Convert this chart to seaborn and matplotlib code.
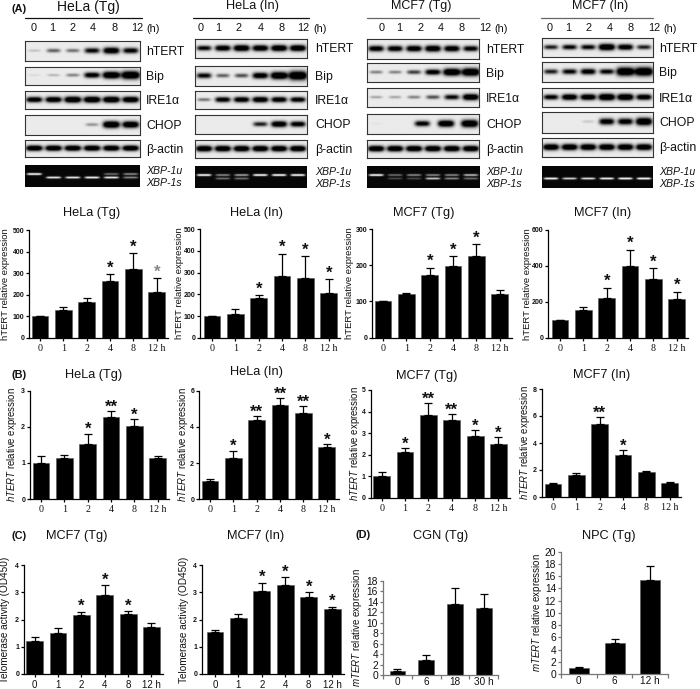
import numpy as np
import matplotlib
matplotlib.use("Agg")
import matplotlib.pyplot as plt
import pandas as pd
import seaborn as sns

sns.set_theme(style="white")
plt.rcParams["font.family"] = ["Liberation Sans", "DejaVu Sans"]
plt.rcParams["mathtext.fontset"] = "custom"
plt.rcParams["mathtext.it"] = "Liberation Sans:italic"
plt.rcParams["mathtext.rm"] = "Liberation Sans"

W, H = 700, 689

# ---------- data: bar panels ----------
hours = ["0", "1", "2", "4", "8", "12 h"]

a1_vals = [100, 130, 167, 265, 320, 213]
a1_tops = [100, 145, 185, 295, 392, 277]
a2_vals = [100, 112, 185, 283, 275, 205]
a2_tops = [100, 132, 195, 387, 375, 270]
a3_vals = [100, 119, 173, 198, 224, 121]
a3_tops = [100, 124, 193, 224, 258, 130]
a4_vals = [100, 155, 220, 397, 325, 216]
a4_tops = [100, 170, 278, 488, 385, 257]

b1_vals = [1.0, 1.14, 1.53, 2.28, 2.03, 1.13]
b1_tops = [1.18, 1.23, 1.81, 2.43, 2.2, 1.19]
b2_vals = [1.0, 2.27, 4.38, 5.18, 4.74, 2.87]
b2_tops = [1.1, 2.68, 4.6, 5.58, 5.13, 3.03]
b3_vals = [1.0, 2.15, 3.85, 3.63, 2.87, 2.52]
b3_tops = [1.22, 2.3, 4.38, 3.87, 3.15, 2.82]
b4_vals = [1.0, 1.6, 5.42, 3.12, 1.87, 1.05]
b4_tops = [1.05, 1.76, 5.9, 3.47, 1.92, 1.1]

c1_vals = [1.22, 1.5, 2.15, 2.9, 2.2, 1.73]
c1_tops = [1.34, 1.67, 2.29, 3.25, 2.3, 1.88]
c2_vals = [1.53, 2.05, 3.05, 3.27, 2.82, 2.38]
c2_tops = [1.6, 2.19, 3.35, 3.55, 3.0, 2.47]

d1_hours = ["0", "6", "18", "30 h"]
d1_vals = [0.9, 2.9, 13.5, 12.9]
d1_tops = [1.15, 3.8, 16.7, 15.4]
d2_hours = ["0", "6", "12 h"]
d2_vals = [1.0, 5.0, 15.4]
d2_tops = [1.1, 5.8, 17.7]

a1_stars = ["", "", "", "*", "*", "*"]
a2_stars = ["", "", "*", "*", "*", "*"]
a3_stars = ["", "", "*", "*", "*", ""]
a4_stars = ["", "", "*", "*", "*", "*"]
b1_stars = ["", "", "*", "**", "*", ""]
b2_stars = ["", "*", "**", "**", "**", "*"]
b3_stars = ["", "*", "**", "**", "*", "*"]
b4_stars = ["", "", "**", "*", "", ""]
c1_stars = ["", "", "*", "*", "*", ""]
c2_stars = ["", "", "*", "*", "*", "*"]

# ---------- data: blots (band strengths per lane) ----------
blot_rows = ["hTERT", "Bip", "IRE1α", "CHOP", "β-actin"]
actin = [0.95] * 6
hela_tg = [[0.12, 0.4, 0.35, 0.7, 0.9, 0.75], [0.05, 0.15, 0.3, 0.8, 1.1, 1.35],
           [0.85, 0.9, 1.0, 1.0, 1.0, 0.95], [0, 0, 0, 0.25, 1.0, 0.95], actin]
hela_in = [[0.7, 0.85, 0.95, 0.9, 0.95, 0.95], [0.7, 0.4, 0.45, 0.85, 1.1, 1.45],
           [0.35, 0.8, 0.85, 0.9, 0.85, 0.8], [0, 0, 0, 0.6, 0.9, 0.8], actin]
mcf_tg = [[0.8, 0.8, 0.85, 0.9, 0.85, 0.75], [0.3, 0.3, 0.5, 0.8, 1.15, 1.3],
          [0.2, 0.2, 0.3, 0.45, 0.7, 0.95], [0.02, 0, 0.75, 0.95, 1.1, 0], actin]
mcf_in = [[0.6, 0.7, 0.7, 1.0, 0.85, 0.6], [0.6, 0.7, 0.8, 0.7, 1.35, 1.4],
          [0.75, 0.9, 0.9, 1.05, 1.0, 0.85], [0, 0, 0.1, 0.8, 0.8, 1.0], actin]
blot_sets = [hela_tg, hela_in, mcf_tg, mcf_in]

xbp_u_sets = [[1, 0, 0, 0, 0.4, 0.5], [1, 0.5, 0.6, 1, 1, 1],
              [1, 0.4, 0.5, 0.5, 0.5, 0.7], [0, 0, 0, 0, 0, 0]]
xbp_s_sets = [[0, 0.9, 0.9, 0.95, 0.9, 0.5], [0, 0.4, 0.4, 0, 0, 0],
              [0, 0.25, 0.25, 0.75, 0.5, 0.4], [1, 0.8, 0.85, 0.95, 1, 1]]

blot_titles = ["HeLa (Tg)", "HeLa (In)", "MCF7 (Tg)", "MCF7 (In)"]
lane_labels = ["0", "1", "2", "4", "8", "12"]

fig = plt.figure(figsize=(W / 100, H / 100), dpi=100, facecolor="white")


def text(x, y, s, **kw):
    kw.setdefault("ha", "center")
    kw.setdefault("va", "center")
    kw.setdefault("color", "#111111")
    return fig.text(x / W, 1 - y / H, s, **kw)


def px_axes(l, t, r, b):
    return fig.add_axes([l / W, 1 - b / H, (r - l) / W, (b - t) / H])


# ---------- blots ----------
blot_x = [(25, 140), (195, 307), (367, 479), (542, 653)]
blot_y = [
    [(41, 61), (67, 85), (91, 109), (115, 135), (140, 157), (165, 187)],
    [(39, 58), (66, 86), (91, 109), (115, 134), (140, 158), (166, 188)],
    [(39, 59), (63, 82), (88, 107), (114, 134), (140, 158), (166, 188)],
    [(38, 57), (62, 82), (88, 107), (112, 133), (138, 157), (166, 188)],
]
head_x = [(25, 142), (193, 309), (367, 479), (541, 653)]
head_col = ["#111111", "#111111", "#666666", "#666666"]
title_pos = [(88, 7, 10), (253, 6, 9.2), (421, 6, 9), (600, 6, 9)]
lane_x = [[34, 52, 73, 93, 115, 137], [201, 218, 239, 261, 282, 303],
          [382, 399, 420, 441, 462, 485], [550, 568, 589, 610, 631, 654]]
unit_x = [153, 320, 501, 670]
row_label_x = [146, 315, 486, 659]
lane_band = [0.08 + 0.168 * i for i in range(6)]
chop_mcf_band = [0.08, 0.25, 0.49, 0.70, 0.91, 0.99]


def band_image(width, height, vals, centres, bg=0.92):
    nx, ny = int(width * 3), int(height * 3)
    X, Y = np.meshgrid(np.linspace(0, 1, nx), np.linspace(0, 1, ny))
    img = np.full_like(X, bg)
    for c, v in zip(centres, vals):
        if v <= 0:
            continue
        hw = 0.07 * (0.72 + 0.32 * min(v, 1.5))
        sy = 0.05 + 0.12 * v
        g = np.exp(-((X - c) / hw) ** 4) * np.exp(-((Y - 0.48) / sy) ** 2)
        img -= 1.4 * min(v, 1.0) * g
    return np.clip(img, 0.0, 1.0)


def gel_image(width, height, us, ss):
    nx, ny = int(width * 3), int(height * 3)
    X, Y = np.meshgrid(np.linspace(0, 1, nx), np.linspace(0, 1, ny))
    img = np.full_like(X, 0.03)
    for c, u, s in zip(lane_band, us, ss):
        for v, yc in ((u, 0.41), (s, 0.57)):
            if v > 0:
                img += 1.1 * v * np.exp(-((X - c) / 0.065) ** 6) * np.exp(-((Y - yc) / 0.045) ** 2)
    return np.clip(img, 0, 1)


for p in range(4):
    x0, x1 = blot_x[p]
    for r, (y0, y1) in enumerate(blot_y[p]):
        ax = px_axes(x0, y0, x1, y1)
        if r < 5:
            centres = chop_mcf_band if (p == 2 and r == 3) else lane_band
            img = band_image(x1 - x0, y1 - y0, blot_sets[p][r], centres)
        else:
            img = gel_image(x1 - x0, y1 - y0, xbp_u_sets[p], xbp_s_sets[p])
        ax.imshow(img, cmap="gray", vmin=0, vmax=1, aspect="auto", interpolation="bilinear")
        ax.set_xticks([])
        ax.set_yticks([])
        for sp in ax.spines.values():
            sp.set_color("#333333")
            sp.set_linewidth(0.8)
            sp.set_visible(r < 5)
        if r < 5:
            text(row_label_x[p], (y0 + y1) / 2 + 1, blot_rows[r], ha="left", fontsize=8.8)
        else:
            text(row_label_x[p], y0 + 6, "XBP-1u", ha="left", fontsize=7.6, style="italic")
            text(row_label_x[p], y0 + 18, "XBP-1s", ha="left", fontsize=7.6, style="italic")
    a, b = head_x[p]
    fig.add_artist(plt.Line2D([a / W, b / W], [1 - 18 / H, 1 - 18 / H], color=head_col[p], lw=0.9))
    tx, ty, fs = title_pos[p]
    text(tx, ty, blot_titles[p], fontsize=fs)
    for lx, lab in zip(lane_x[p], lane_labels):
        text(lx, 28, lab, fontsize=7.8)
    text(unit_x[p], 28.5, "(h)", fontsize=7.8)

for s, x, y in [("(A)", 19, 9), ("(B)", 19, 375), ("(C)", 19, 536), ("(D)", 363, 535)]:
    text(x, y, s, fontsize=7.8, fontweight="bold")


# ---------- bar panels ----------
def bar_panel(vals, tops, labels, stars, ymax, yticks, title, title_xy, tfs,
              box, c0, step, width, ylabel, ylab_x, ylab_fs,
              star_gap=7, serif=True, bold_y=True, excel=False, tick_fs=7.2, tick_pad=2.2):
    l, t, r, b = box
    ax = px_axes(l, t, r, b)
    df = pd.DataFrame({"label": labels, "value": vals})
    sns.barplot(data=df, x="label", y="value", color="black", saturation=1,
                width=width, ax=ax, edgecolor="#555555", linewidth=0.4)
    xs = np.arange(len(vals))
    up = np.array(tops) - np.array(vals)
    ax.errorbar(xs, vals, yerr=[np.zeros(len(vals)), up], fmt="none", ecolor="black",
                elinewidth=0.9, capsize=2.6, capthick=0.9)
    ax.set_xlim((l - c0) / step, (r - c0) / step)
    ax.set_ylim(0, ymax)
    ax.set_yticks(yticks)
    ax.set_xlabel("")
    ax.set_ylabel(ylabel, fontsize=ylab_fs, color="#111111", labelpad=0)
    ax.yaxis.label.set_va("center")
    ax.yaxis.set_label_coords((ylab_x - l) / (r - l), 0.5)
    for sp in ("top", "right"):
        ax.spines[sp].set_visible(False)
    col = "#777777" if excel else "black"
    for sp in ("left", "bottom"):
        ax.spines[sp].set_color(col)
        ax.spines[sp].set_linewidth(0.9)
    ax.tick_params(axis="y", left=True, length=2, width=0.9, color=col, pad=1.5,
                   labelsize=7.4 if not bold_y else 5, labelcolor="#111111")
    if bold_y:
        for lb in ax.get_yticklabels():
            lb.set_fontweight("bold")
    if excel:
        ax.set_xticks(np.arange(len(vals) + 1) - 0.5)
        ax.set_xticklabels([])
        ax.set_xticks(xs, labels, minor=True)
        ax.tick_params(axis="x", which="major", bottom=True, length=3, width=0.9, color=col)
        ax.tick_params(axis="x", which="minor", bottom=False, length=0, pad=tick_pad,
                       labelsize=tick_fs, labelcolor="#111111")
    else:
        ax.set_xticks(xs, labels)
        ax.tick_params(axis="x", bottom=True, length=2.2, width=0.9, color=col,
                       pad=tick_pad, labelsize=tick_fs, labelcolor="#111111")
        if serif:
            for lb in ax.get_xticklabels():
                lb.set_fontfamily("Liberation Serif")
    for i, s in enumerate(stars):
        if s:
            grey = title == "HeLa (Tg)" and ymax == 500 and i == 5
            ax.annotate(s, (i, tops[i]), xytext=(0, star_gap), textcoords="offset pixels",
                        ha="center", va="center", fontsize=12, fontweight="bold",
                        color="#888888" if grey else "#111111")
    text(title_xy[0], title_xy[1], title, fontsize=tfs)
    return ax


yl_a = "hTERT relative expression"
yl_b = "$\\mathit{hTERT}$ relative expression"
yl_c = "Telomerase activity (OD450)"
yl_d = "$\\mathit{mTERT}$ relative expression"

step = 23.35
t5 = [0, 100, 200, 300, 400, 500]
bar_panel(a1_vals, a1_tops, hours, a1_stars, 500, t5, "HeLa (Tg)", (92, 213), 9.2,
          (29, 230, 168, 338), 40, step, 0.72, yl_a, 6, 6.8, star_gap=6)
bar_panel(a2_vals, a2_tops, hours, a2_stars, 500, t5, "HeLa (In)", (257, 213), 9.2,
          (200, 229, 340, 338), 212, step, 0.72, yl_a, 179, 6.8, star_gap=6)
bar_panel(a3_vals, a3_tops, hours, a3_stars, 300, [0, 100, 200, 300], "MCF7 (Tg)", (424, 213), 9.2,
          (372, 229, 512, 337.5), 383, step, 0.72, yl_a, 349, 6.8, star_gap=6)
bar_panel(a4_vals, a4_tops, hours, a4_stars, 600, [0, 200, 400, 600], "MCF7 (In)", (603, 213), 9.2,
          (548, 229.5, 688, 338), 560, step, 0.72, yl_a, 527, 6.8, star_gap=6)

bar_panel(b1_vals, b1_tops, hours, b1_stars, 3, [0, 1, 2, 3], "HeLa (Tg)", (94, 375), 9.2,
          (30, 390.5, 169, 499), 41, step, 0.72, yl_b, 12, 6.9, star_gap=4)
bar_panel(b2_vals, b2_tops, hours, b2_stars, 6, [0, 2, 4, 6], "HeLa (In)", (256, 372), 9.2,
          (199, 390.5, 339, 499.3), 210, step, 0.72, yl_b, 183, 6.9, star_gap=4)
bar_panel(b3_vals, b3_tops, hours, b3_stars, 5, [0, 1, 2, 3, 4, 5], "MCF7 (Tg)", (427, 376), 9.2,
          (370.5, 390, 510, 498), 381.7, step, 0.72, yl_b, 355, 6.9, star_gap=4)
bar_panel(b4_vals, b4_tops, hours, b4_stars, 8, [0, 2, 4, 6, 8], "MCF7 (In)", (602, 375), 9.2,
          (541.5, 389, 681, 497), 553, step, 0.72, yl_b, 525, 6.9, star_gap=4)

bar_panel(c1_vals, c1_tops, hours, c1_stars, 4, [0, 1, 2, 3, 4], "MCF7 (Tg)", (77, 536), 9.2,
          (24, 565, 163, 674), 34.7, step, 0.72, yl_c, 5, 7.2, star_gap=5, serif=False, tick_fs=7)
bar_panel(c2_vals, c2_tops, hours, c2_stars, 4, [0, 1, 2, 3, 4], "MCF7 (In)", (256, 536), 9.2,
          (202, 565, 344, 674), 215, 23.45, 0.72, yl_c, 184, 7.2, star_gap=5, serif=False, tick_fs=7)

bar_panel(d1_vals, d1_tops, d1_hours, [""] * 4, 18, list(range(0, 19, 2)), "CGN (Tg)", (441, 536), 9.2,
          (383, 580.7, 498, 675.3), 397.5, 28.8, 0.55, yl_d, 357, 7.0,
          serif=False, bold_y=False, excel=True, tick_fs=7.2, tick_pad=1.5)
bar_panel(d2_vals, d2_tops, d2_hours, [""] * 3, 20, list(range(0, 21, 2)), "NPC (Tg)", (609, 536), 9.2,
          (561, 551.7, 668, 674), 579, 35.8, 0.56, yl_d, 537, 7.0,
          serif=False, bold_y=False, excel=True, tick_fs=7.2, tick_pad=1.5)

fig.savefig("out.png", dpi=100, facecolor="white")
